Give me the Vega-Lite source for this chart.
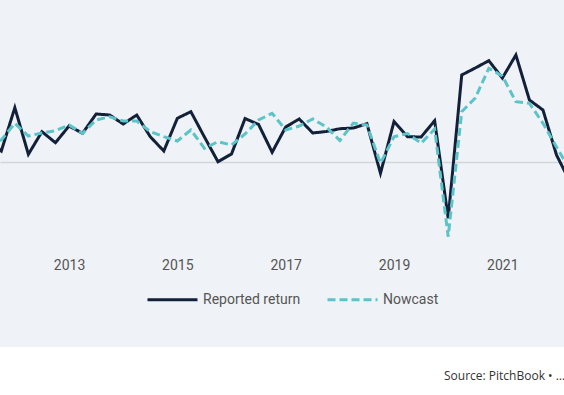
{
  "$schema": "https://vega.github.io/schema/vega-lite/v6.json",
  "width": 564,
  "height": 347,
  "autosize": {"type": "pad"},
  "padding": 0,
  "background": "#ffffff",
  "config": {
    "view": {"fill": "#eff3f7", "stroke": null},
    "font": "Roboto",
    "legend": {
      "orient": "none",
      "legendX": 146,
      "legendY": 273,
      "direction": "horizontal",
      "symbolType": "stroke",
      "symbolSize": 2500,
      "symbolStrokeWidth": 3,
      "labelFont": "Roboto",
      "labelFontSize": 14,
      "labelColor": "#555555",
      "labelOffset": 4,
      "columnPadding": 20
    }
  },
  "title": {
    "text": "Source: PitchBook • Geography: Global",
    "orient": "bottom",
    "anchor": "start",
    "dx": 444,
    "offset": 24,
    "limit": 126,
    "font": "Open Sans",
    "fontSize": 12,
    "fontWeight": "normal",
    "color": "#333333"
  },
  "data": {
    "values": [
      {"t": 2011.5, "series": "Reported return", "v": 2.15},
      {"t": 2011.75, "series": "Reported return", "v": 1.05},
      {"t": 2012.0, "series": "Reported return", "v": 5.38},
      {"t": 2012.25, "series": "Reported return", "v": 0.72},
      {"t": 2012.5, "series": "Reported return", "v": 2.98},
      {"t": 2012.75, "series": "Reported return", "v": 1.88},
      {"t": 2013.0, "series": "Reported return", "v": 3.55},
      {"t": 2013.25, "series": "Reported return", "v": 2.82},
      {"t": 2013.5, "series": "Reported return", "v": 4.75},
      {"t": 2013.75, "series": "Reported return", "v": 4.65},
      {"t": 2014.0, "series": "Reported return", "v": 3.75},
      {"t": 2014.25, "series": "Reported return", "v": 4.65},
      {"t": 2014.5, "series": "Reported return", "v": 2.48},
      {"t": 2014.75, "series": "Reported return", "v": 1.05},
      {"t": 2015.0, "series": "Reported return", "v": 4.32},
      {"t": 2015.25, "series": "Reported return", "v": 4.98},
      {"t": 2015.5, "series": "Reported return", "v": 2.45},
      {"t": 2015.75, "series": "Reported return", "v": -0.02},
      {"t": 2016.0, "series": "Reported return", "v": 0.75},
      {"t": 2016.25, "series": "Reported return", "v": 4.3},
      {"t": 2016.5, "series": "Reported return", "v": 3.7},
      {"t": 2016.75, "series": "Reported return", "v": 0.92},
      {"t": 2017.0, "series": "Reported return", "v": 3.45},
      {"t": 2017.25, "series": "Reported return", "v": 4.25},
      {"t": 2017.5, "series": "Reported return", "v": 2.85},
      {"t": 2017.75, "series": "Reported return", "v": 3.0},
      {"t": 2018.0, "series": "Reported return", "v": 3.28},
      {"t": 2018.25, "series": "Reported return", "v": 3.35},
      {"t": 2018.5, "series": "Reported return", "v": 3.78},
      {"t": 2018.75, "series": "Reported return", "v": -1.18},
      {"t": 2019.0, "series": "Reported return", "v": 4.0},
      {"t": 2019.25, "series": "Reported return", "v": 2.48},
      {"t": 2019.5, "series": "Reported return", "v": 2.45},
      {"t": 2019.75, "series": "Reported return", "v": 4.08},
      {"t": 2020.0, "series": "Reported return", "v": -5.68},
      {"t": 2020.25, "series": "Reported return", "v": 8.65},
      {"t": 2020.5, "series": "Reported return", "v": 9.35},
      {"t": 2020.75, "series": "Reported return", "v": 10.08},
      {"t": 2021.0, "series": "Reported return", "v": 8.35},
      {"t": 2021.25, "series": "Reported return", "v": 10.65},
      {"t": 2021.5, "series": "Reported return", "v": 6.15},
      {"t": 2021.75, "series": "Reported return", "v": 5.15},
      {"t": 2022.0, "series": "Reported return", "v": 0.65},
      {"t": 2022.25, "series": "Reported return", "v": -2.05},
      {"t": 2011.5, "series": "Nowcast", "v": 1.95},
      {"t": 2011.75, "series": "Nowcast", "v": 2.15},
      {"t": 2012.0, "series": "Nowcast", "v": 3.82},
      {"t": 2012.25, "series": "Nowcast", "v": 2.55},
      {"t": 2012.5, "series": "Nowcast", "v": 2.85},
      {"t": 2012.75, "series": "Nowcast", "v": 3.08},
      {"t": 2013.0, "series": "Nowcast", "v": 3.65},
      {"t": 2013.25, "series": "Nowcast", "v": 2.82},
      {"t": 2013.5, "series": "Nowcast", "v": 4.15},
      {"t": 2013.75, "series": "Nowcast", "v": 4.48},
      {"t": 2014.0, "series": "Nowcast", "v": 4.05},
      {"t": 2014.25, "series": "Nowcast", "v": 4.05},
      {"t": 2014.5, "series": "Nowcast", "v": 2.98},
      {"t": 2014.75, "series": "Nowcast", "v": 2.48},
      {"t": 2015.0, "series": "Nowcast", "v": 2.05},
      {"t": 2015.25, "series": "Nowcast", "v": 3.15},
      {"t": 2015.5, "series": "Nowcast", "v": 1.32},
      {"t": 2015.75, "series": "Nowcast", "v": 1.98},
      {"t": 2016.0, "series": "Nowcast", "v": 1.65},
      {"t": 2016.25, "series": "Nowcast", "v": 2.75},
      {"t": 2016.5, "series": "Nowcast", "v": 4.15},
      {"t": 2016.75, "series": "Nowcast", "v": 4.82},
      {"t": 2017.0, "series": "Nowcast", "v": 3.15},
      {"t": 2017.25, "series": "Nowcast", "v": 3.55},
      {"t": 2017.5, "series": "Nowcast", "v": 4.25},
      {"t": 2017.75, "series": "Nowcast", "v": 3.45},
      {"t": 2018.0, "series": "Nowcast", "v": 2.1},
      {"t": 2018.25, "series": "Nowcast", "v": 3.85},
      {"t": 2018.5, "series": "Nowcast", "v": 3.65},
      {"t": 2018.75, "series": "Nowcast", "v": -0.18},
      {"t": 2019.0, "series": "Nowcast", "v": 2.48},
      {"t": 2019.25, "series": "Nowcast", "v": 2.8},
      {"t": 2019.5, "series": "Nowcast", "v": 1.82},
      {"t": 2019.75, "series": "Nowcast", "v": 3.25},
      {"t": 2020.0, "series": "Nowcast", "v": -7.52},
      {"t": 2020.25, "series": "Nowcast", "v": 4.98},
      {"t": 2020.5, "series": "Nowcast", "v": 6.35},
      {"t": 2020.75, "series": "Nowcast", "v": 9.32},
      {"t": 2021.0, "series": "Nowcast", "v": 8.55},
      {"t": 2021.25, "series": "Nowcast", "v": 5.98},
      {"t": 2021.5, "series": "Nowcast", "v": 5.82},
      {"t": 2021.75, "series": "Nowcast", "v": 3.82},
      {"t": 2022.0, "series": "Nowcast", "v": 1.45},
      {"t": 2022.25, "series": "Nowcast", "v": -0.85}
    ]
  },
  "mark": {"type": "line", "strokeWidth": 3, "clip": true},
  "encoding": {
    "x": {
      "field": "t",
      "type": "quantitative",
      "scale": {"domain": [2011.726, 2022.138], "nice": false, "zero": false},
      "axis": {
        "title": null,
        "values": [2013, 2015, 2017, 2019, 2021],
        "format": "d",
        "grid": false,
        "domain": false,
        "ticks": false,
        "labelPadding": 0,
        "offset": -89,
        "labelFont": "Roboto",
        "labelFontSize": 14,
        "labelColor": "#555555"
      }
    },
    "y": {
      "field": "v",
      "type": "quantitative",
      "scale": {"domain": [-18.55, 16.15], "nice": false, "zero": false},
      "axis": {
        "title": null,
        "values": [0],
        "grid": true,
        "gridColor": "#d3d6d9",
        "gridWidth": 1.5,
        "gridOpacity": 1,
        "labels": false,
        "ticks": false,
        "domain": false
      }
    },
    "color": {
      "field": "series",
      "type": "nominal",
      "scale": {"domain": ["Reported return", "Nowcast"], "range": ["#13203a", "#5cc3c8"]},
      "legend": {"title": null}
    },
    "strokeDash": {
      "field": "series",
      "type": "nominal",
      "scale": {"domain": ["Reported return", "Nowcast"], "range": [[1, 0], [8, 4]]},
      "legend": {"title": null}
    }
  }
}
